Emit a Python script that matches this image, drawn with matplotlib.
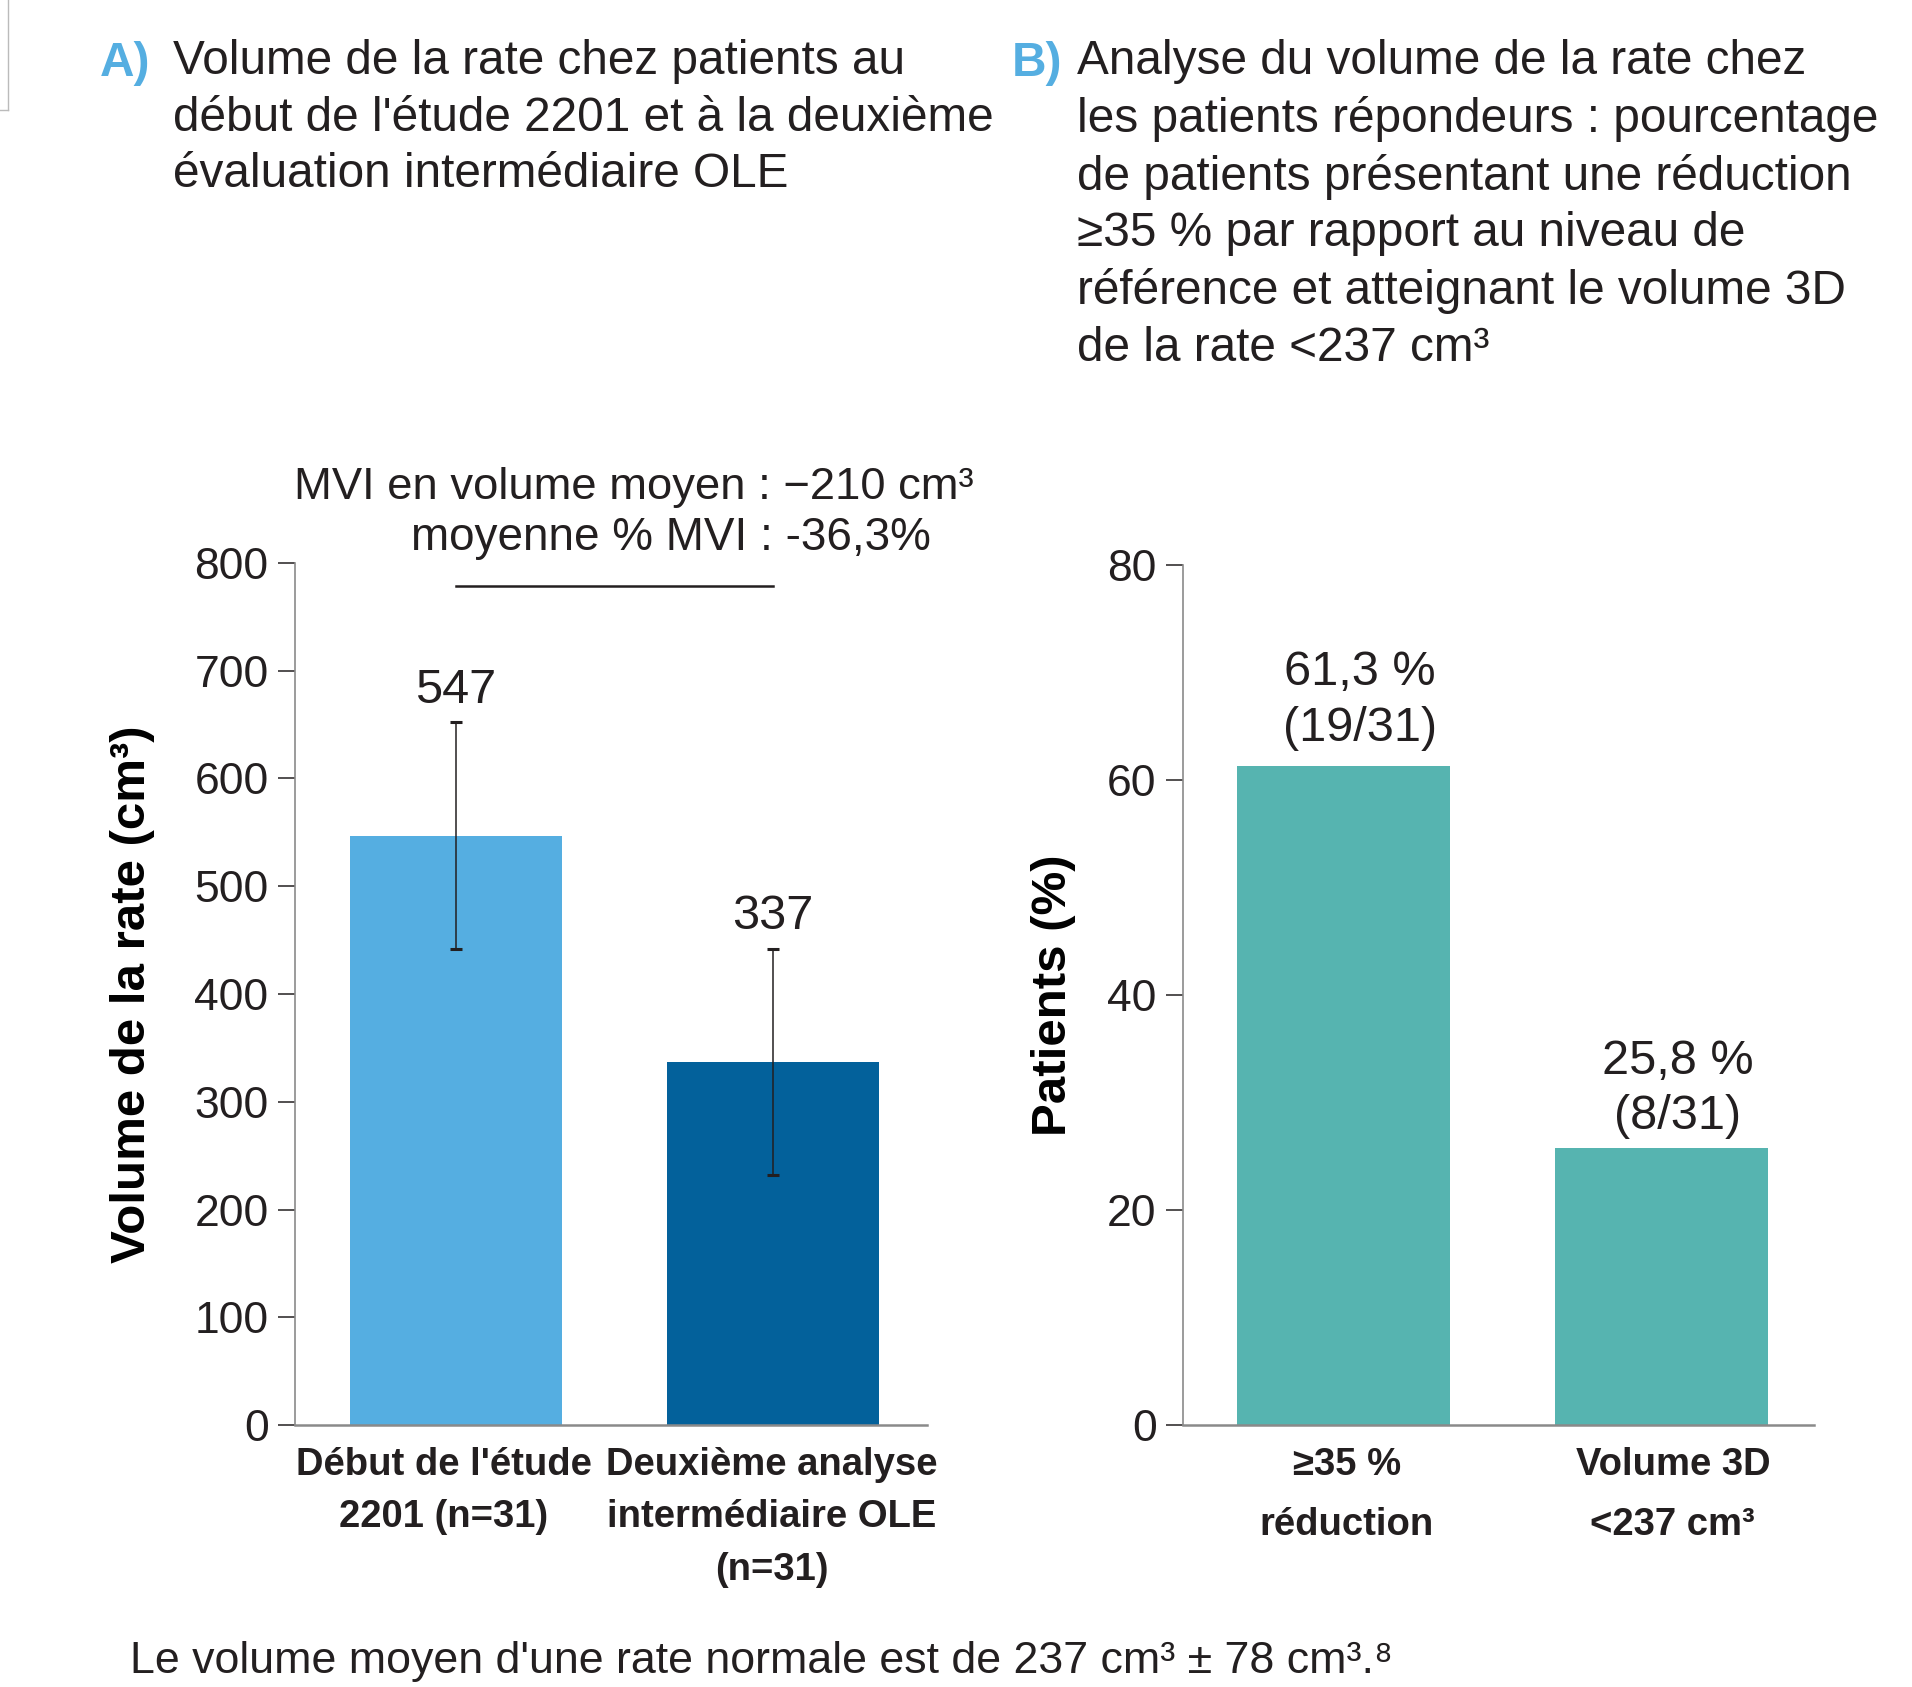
import matplotlib
matplotlib.use("Agg")
import matplotlib.pyplot as plt
from matplotlib.lines import Line2D

# data
vol_labels = ["Début de l'étude\n2201 (n=31)", "Deuxième analyse\nintermédiaire OLE\n(n=31)"]
vol_mean = [547, 337]
vol_err = [105, 105]
vol_colors = ["#55AEE1", "#03619B"]

resp_labels = ["≥35 %\nréduction", "Volume 3D\n<237 cm³"]
resp_pct = [61.3, 25.8]
resp_n = [19, 8]
resp_total = 31
resp_color = "#56B4B0"

W, H = 1912, 1687
DARK = "#231F20"
GREY = "#8A8A8A"
plt.rcParams['font.family'] = ["Liberation Sans", "DejaVu Sans"]
plt.rcParams['text.color'] = DARK


def fx(x):
    return x / W


def fy(y):
    return 1 - y / H


def cat_labels(ax, labels, shifts, spacing):
    # category names under the bars, drawn as annotations so they can be nudged
    ax.set_xticks(range(len(labels)))
    ax.set_xticklabels([])
    for i, (lab, dx) in enumerate(zip(labels, shifts)):
        ax.annotate(lab, xy=(i, 0), xycoords=("data", "axes fraction"), xytext=(dx, -16),
                    textcoords="offset points", ha="center", va="top", fontsize=27.5,
                    fontweight="bold", linespacing=spacing, annotation_clip=False)


fig = plt.figure(figsize=(W / 100, H / 100), dpi=100)

# crop artefact in the top-left corner
fig.add_artist(Line2D([fx(8), fx(8)], [fy(0), fy(110)], color="#BBBBBB", lw=1))
fig.add_artist(Line2D([fx(0), fx(8)], [fy(110), fy(110)], color="#BBBBBB", lw=1))

# panel titles
title_fs = 34.4
fig.text(fx(100), fy(64), "A)", color="#55AEE1", fontsize=title_fs, fontweight="bold", va="center")
fig.text(fx(173), fy(39), "Volume de la rate chez patients au\ndébut de l'étude 2201 et à la deuxième\névaluation intermédiaire OLE",
         fontsize=title_fs, va="top", ha="left", linespacing=1.33)
fig.text(fx(1012), fy(64), "B)", color="#55AEE1", fontsize=title_fs, fontweight="bold", va="center")
fig.text(fx(1077), fy(39), "Analyse du volume de la rate chez\nles patients répondeurs : pourcentage\nde patients présentant une réduction\n≥35 % par rapport au niveau de\nréférence et atteignant le volume 3D\nde la rate <237 cm³",
         fontsize=title_fs, va="top", ha="left", linespacing=1.33)

# left panel
ax1 = fig.add_axes([fx(295), fy(1425), fx(927 - 295), (1425 - 563) / H])
x1 = range(len(vol_mean))
ax1.bar(x1, vol_mean, width=0.67, color=vol_colors, zorder=2)
ax1.errorbar(x1, vol_mean, yerr=vol_err, fmt="none", ecolor=DARK, elinewidth=1.1,
             capsize=4.5, capthick=2.2, zorder=3)
for i, (m, e) in enumerate(zip(vol_mean, vol_err)):
    ax1.text(i, m + e + 9, f"{m}", ha="center", va="bottom", fontsize=35)
ax1.set_xlim(-0.508, 1.485)
ax1.set_ylim(0, 800)
ax1.set_yticks(range(0, 801, 100))
cat_labels(ax1, vol_labels, [-9, -1], 1.58)
ax1.set_ylabel("Volume de la rate (cm³)", fontsize=35.5, fontweight="bold")
ax1.yaxis.set_label_coords(-0.222, 0.5)

# bracket and mean change annotation
ax1.plot([0, 1], [779, 779], color=DARK, lw=1.8, clip_on=False)
fig.text(fx(634), fy(487), "MVI en volume moyen : −210 cm³", ha="center", va="center", fontsize=32.7)
fig.text(fx(671), fy(538), "moyenne % MVI : -36,3%", ha="center", va="center", fontsize=33)

# right panel
ax2 = fig.add_axes([fx(1183), fy(1425), fx(1814 - 1183), (1425 - 565) / H])
x2 = range(len(resp_pct))
ax2.bar(x2, resp_pct, width=0.67, color=resp_color, zorder=2)
for i, (p, n) in enumerate(zip(resp_pct, resp_n)):
    ax2.text(i + 0.05, p + 1.4 - 0.6 * i, f"{p:.1f} %".replace(".", ",") + f"\n({n}/{resp_total})",
             ha="center", va="bottom", fontsize=35, linespacing=1.3)
ax2.set_xlim(-0.506, 1.479)
ax2.set_ylim(0, 80)
ax2.set_yticks(range(0, 81, 20))
cat_labels(ax2, resp_labels, [2, 8], 1.85)
ax2.set_ylabel("Patients (%)", fontsize=35.5, fontweight="bold")
ax2.yaxis.set_label_coords(-0.170, 0.5)

for ax in (ax1, ax2):
    ax.spines["top"].set_visible(False)
    ax.spines["right"].set_visible(False)
    ax.spines["left"].set_color(GREY)
    ax.spines["left"].set_linewidth(1.2)
    ax.spines["bottom"].set_color(GREY)
    ax.spines["bottom"].set_linewidth(1.8)
    ax.tick_params(axis="y", length=12, width=1.1, color=DARK, pad=7, labelsize=32, labelcolor=DARK)
    ax.tick_params(axis="x", length=0)

fig.text(fx(130), fy(1661), "Le volume moyen d'une rate normale est de 237 cm³ ± 78 cm³.⁸",
         fontsize=32.2, va="center", ha="left")

fig.savefig("out.png", dpi=100)
